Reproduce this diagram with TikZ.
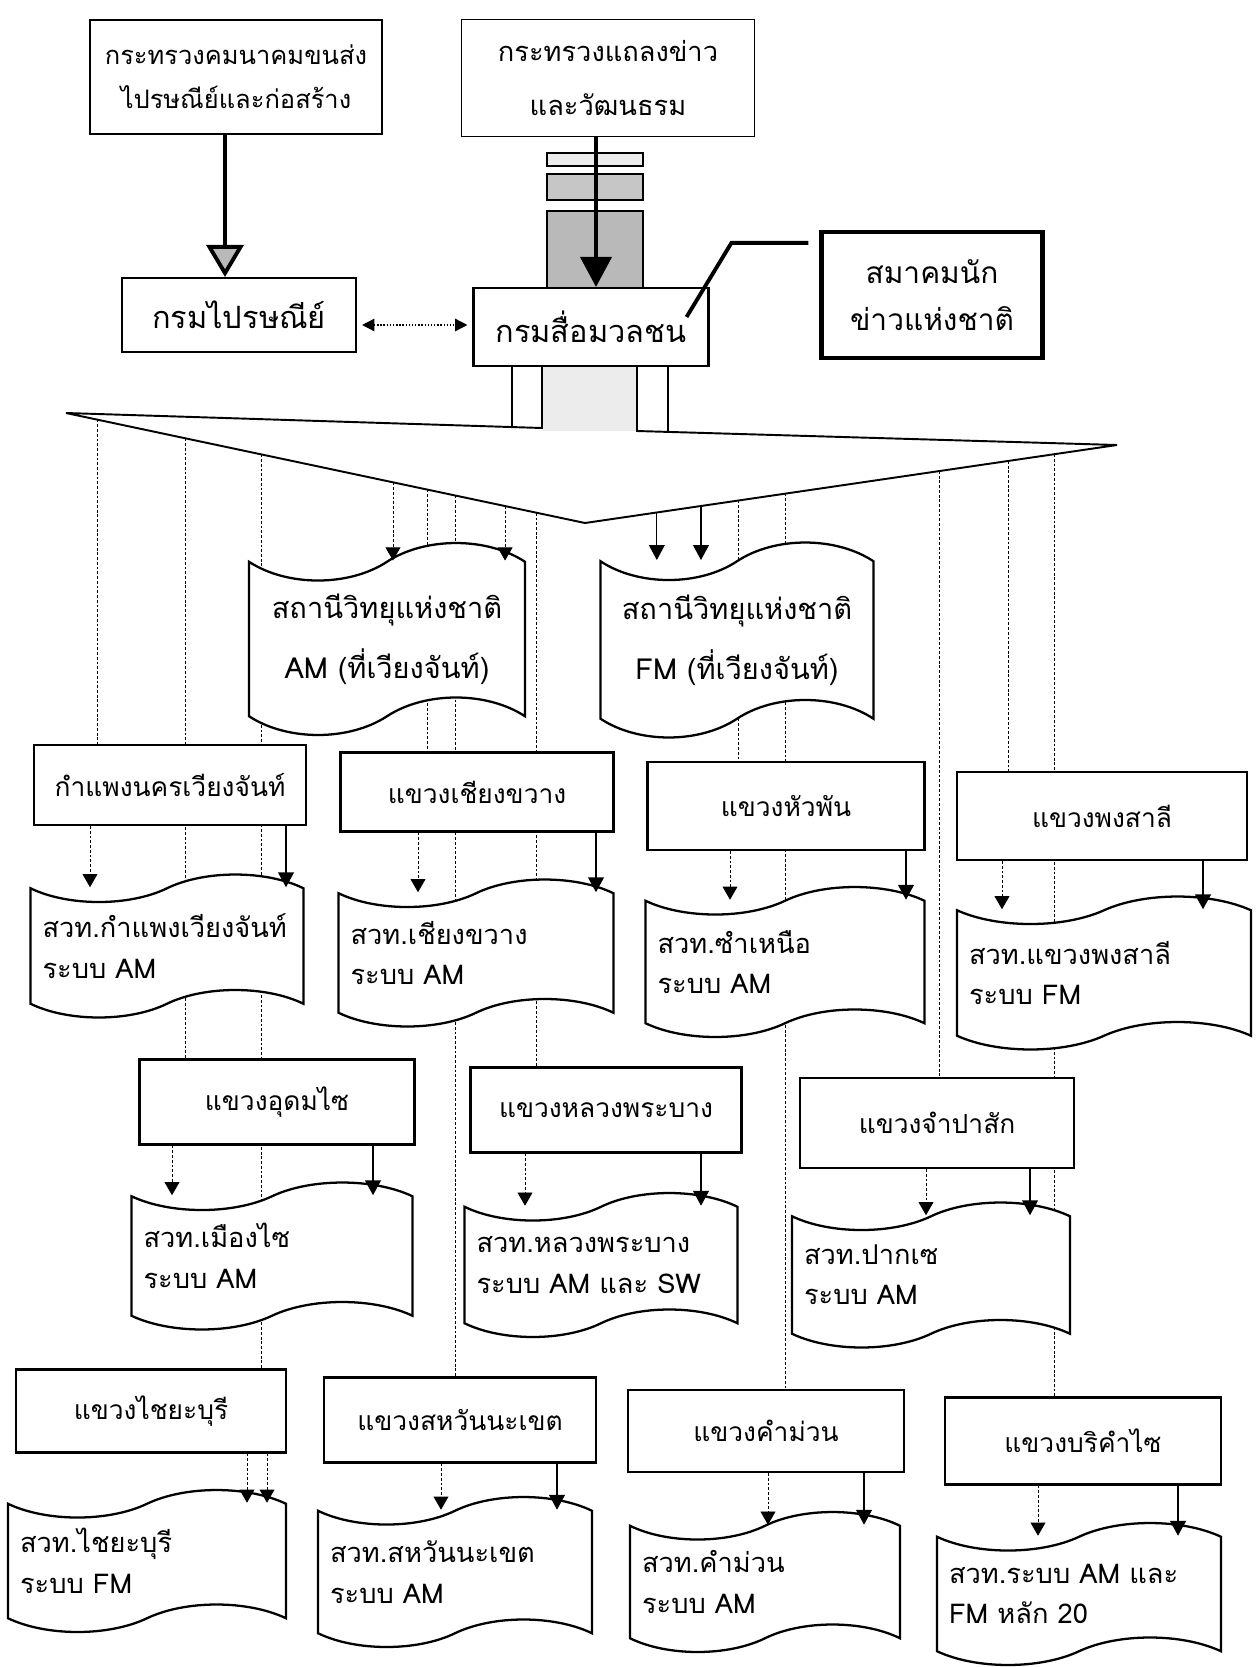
\documentclass[tikz,border=0pt]{standalone}
\usepackage{fontspec}
\setmainfont{Loma}[Script=Thai]
\usetikzlibrary{shapes.symbols,arrows.meta,calc}
\pgfdeclarelayer{background}
\pgfsetlayers{background,main}

\tikzset{
  topbox/.style={draw, fill=white, line width=1pt, align=center, font=\fontsize{14.5}{25}\selectfont},
  deptbox/.style={draw, fill=white, line width=1.2pt, font=\fontsize{17.5}{22}\selectfont},
  provbox/.style={draw, fill=white, line width=1.3pt, font=\fontsize{15}{18}\selectfont},
  station/.style={tape, draw, fill=white, line width=1.3pt, tape bend height=0.55cm, align=left, inner xsep=0.24cm, font=\fontsize{15.5}{23}\selectfont},
  natstation/.style={station, align=center, tape bend height=0.75cm, font=\fontsize{16.5}{34}\selectfont},
  thinln/.style={line width=0.5pt, dash pattern=on 1.6pt off 1.1pt},
  darr/.style={thinln, -{Triangle[length=7.5pt,width=8.5pt]}},
  sarr/.style={line width=1pt, -{Triangle[length=8.5pt,width=9pt]}},
}

\begin{document}
\begin{tikzpicture}[x=0.02cm, y=-0.02cm]
  \useasboundingbox (0,0) rectangle (1257,1667);

  % ministries and departments
  \node[topbox, minimum width=5.84cm, minimum height=2.28cm] (mtc) at (236,77) {กระทรวงคมนาคมขนส่ง\\ไปรษณีย์และก่อสร้าง};
  \node[topbox, minimum width=5.86cm, minimum height=2.34cm, font=\fontsize{15.5}{31}\selectfont] (mic) at (608,78) {กระทรวงแถลงข่าว\\และวัฒนธรม};
  \node[deptbox, minimum width=4.68cm, minimum height=1.48cm] (post) at (239,315) {กรมไปรษณีย์};
  \node[deptbox, minimum width=4.7cm, minimum height=1.56cm] (media) at (591,327) {กรมสื่อมวลชน};
  \node[deptbox, line width=2.4pt, align=center, minimum width=4.42cm, minimum height=2.52cm, font=\fontsize{17}{27}\selectfont] (assoc) at (932,295) {สมาคมนัก\\ข่าวแห่งชาติ};

  % national stations
  \node[natstation, minimum width=5.52cm, minimum height=3.84cm] (amst) at (387,639) {สถานีวิทยุแห่งชาติ\\AM (ที่เวียงจันท์)};
  \node[natstation, minimum width=5.46cm, minimum height=3.9cm] (fmst) at (737,640) {สถานีวิทยุแห่งชาติ\\FM (ที่เวียงจันท์)};

  % first row
  \node[provbox, minimum width=5.44cm, minimum height=1.6cm] (kp) at (170,785) {กำแพงนครเวียงจันท์};
  \node[provbox, minimum width=5.46cm, minimum height=1.58cm] (xk) at (477,792) {แขวงเชียงขวาง};
  \node[provbox, minimum width=5.54cm, minimum height=1.76cm] (hp) at (786,806) {แขวงหัวพัน};
  \node[provbox, minimum width=5.8cm, minimum height=1.76cm] (ps) at (1102,816) {แขวงพงสาลี};
  \node[station, text width=4.98cm, minimum height=2.86cm] (skp) at (167,946) {สวท.กำแพงเวียงจันท์\\ระบบ AM};
  \node[station, text width=5.02cm, minimum height=2.94cm] (sxk) at (476,953) {สวท.เชียงขวาง\\ระบบ AM};
  \node[station, text width=5.1cm, minimum height=3cm] (ssn) at (785,962) {สวท.ซำเหนือ\\ระบบ AM};
  \node[station, text width=5.4cm, minimum height=3.06cm] (sps) at (1104,973) {สวท.แขวงพงสาลี\\ระบบ FM};

  % second row
  \node[provbox, minimum width=5.5cm, minimum height=1.7cm] (ud) at (277,1102) {แขวงอุดมไซ};
  \node[provbox, minimum width=5.42cm, minimum height=1.7cm] (lp) at (606,1110) {แขวงหลวงพระบาง};
  \node[provbox, minimum width=5.48cm, minimum height=1.8cm] (cp) at (937,1123) {แขวงจำปาสัก};
  \node[station, text width=5.14cm, minimum height=2.94cm] (smx) at (272,1256) {สวท.เมืองไซ\\ระบบ AM};
  \node[station, text width=4.98cm, minimum height=2.88cm] (slp) at (601,1265) {สวท.หลวงพระบาง\\ระบบ AM และ SW};
  \node[station, text width=5.08cm, minimum height=2.9cm] (spx) at (931,1275) {สวท.ปากเซ\\ระบบ AM};

  % third row
  \node[provbox, minimum width=5.4cm, minimum height=1.66cm] (xb) at (151,1411) {แขวงไชยะบุรี};
  \node[provbox, minimum width=5.44cm, minimum height=1.7cm] (sv) at (460,1420) {แขวงสหวันนะเขต};
  \node[provbox, minimum width=5.52cm, minimum height=1.64cm] (km) at (766,1431) {แขวงคำม่วน};
  \node[provbox, minimum width=5.52cm, minimum height=1.74cm] (bk) at (1083,1441) {แขวงบริคำไซ};
  \node[station, text width=5.08cm, minimum height=2.84cm] (sxb) at (147,1561) {สวท.ไชยะบุรี\\ระบบ FM};
  \node[station, text width=5cm, minimum height=3cm] (ssv) at (455,1572) {สวท.สหวันนะเขต\\ระบบ AM};
  \node[station, text width=4.92cm, minimum height=2.8cm] (skm) at (765,1582) {สวท.คำม่วน\\ระบบ AM};
  \node[station, text width=5.2cm, minimum height=2.84cm] (sbk) at (1079,1594) {สวท.ระบบ AM และ\\FM หลัก 20};

  % strips under the ministry
  \draw[line width=0.6pt, fill=gray!15] (547,153) rectangle (643,166);
  \draw[line width=0.6pt, fill=gray!45] (547,174) rectangle (643,200);
  \draw[line width=0.6pt, fill=gray!55] (547,211) rectangle (643,288);

  % top arrows
  \draw[line width=2.2pt, -{Triangle[length=0.64cm,width=0.74cm,fill=gray!55]}] (mtc.south -| 225,0) -- (post.north -| 225,0);
  \draw[line width=2.2pt, -{Triangle[length=0.6cm,width=0.62cm]}] (mic.south -| 596,0) -- (media.north -| 596,0);
  \draw[densely dotted, line width=0.8pt, {Triangle[length=7pt,width=7pt]}-{Triangle[length=7pt,width=7pt]}, shorten <=0.1cm, shorten >=0.1cm] ([yshift=-0.2cm]post.east) -- ([yshift=-0.2cm]post.east -| media.west);
  \draw[line width=2.2pt] ([xshift=-0.22cm,yshift=-0.26cm]assoc.north west) -- ++(-77,0) -- ([xshift=-0.46cm,yshift=0.2cm]media.east);

  % funnel
  \coordinate (tl) at (66,413);
  \coordinate (ta) at (585,523);
  \coordinate (tr) at (1117,445);
  \draw[line width=1.1pt] (media.south -| 542,0) -- (542,428) -- (tl) -- (ta) -- (tr) -- (637,431) -- (media.south -| 637,0);
  \draw[line width=1.1pt] (media.south -| 512,0) -- (512,427);
  \draw[line width=1.1pt] (media.south -| 668,0) -- (668,432);
  \foreach \n/\f in {a/0.060, b/0.231, c/0.376, d/0.630, e/0.697, f/0.751, g/0.846, h/0.907}
    \coordinate (L\n) at ($(tl)!\f!(ta)$);
  \foreach \n/\f in {i/0.135, j/0.218, k/0.289, l/0.376, m/0.667, n/0.795, o/0.883}
    \coordinate (R\n) at ($(ta)!\f!(tr)$);

  % lines from the funnel, behind the boxes
  \begin{pgfonlayer}{background}
    \fill[gray!15] (media.south -| 542,0) rectangle (637,431);
    \draw[thinln] (La) -- (La |- kp.north);
    \draw[thinln] (Lb) -- (Lb |- ud.north);
    \draw[thinln] (Lc) -- (Lc |- xb.north);
    \draw[thinln] (Le) -- (Le |- xk.north);
    \draw[thinln] (Lf) -- (Lf |- sv.north);
    \draw[thinln] (Lh) -- (Lh |- lp.north);
    \draw[thinln] (Rk) -- (Rk |- hp.north);
    \draw[thinln] (Rl) -- (Rl |- km.north);
    \draw[thinln] (Rm) -- (Rm |- cp.north);
    \draw[thinln] (Rn) -- (Rn |- ps.north);
    \draw[thinln] (Ro) -- (Ro |- bk.north);
  \end{pgfonlayer}
  \draw[darr] (Ld) -- (Ld |- amst.north);
  \draw[darr] (Lg) -- (Lg |- amst.north);
  \draw[sarr, line width=0.6pt] (Ri) -- (Ri |- fmst.north);
  \draw[sarr, line width=0.6pt] (Rj) -- (Rj |- fmst.north);

  % province to station
  \draw[darr] (kp.south -| 90,0) -- (skp.north -| 90,0);
  \draw[sarr] (kp.south -| 286,0) -- (skp.north -| 286,0);
  \draw[darr] (xk.south -| 418,0) -- (sxk.north -| 418,0);
  \draw[sarr] (xk.south -| 596,0) -- (sxk.north -| 596,0);
  \draw[darr] (hp.south -| 730,0) -- (ssn.north -| 730,0);
  \draw[sarr] (hp.south -| 906,0) -- (ssn.north -| 906,0);
  \draw[darr] (ps.south -| 1002,0) -- (sps.north -| 1002,0);
  \draw[sarr] (ps.south -| 1203,0) -- (sps.north -| 1203,0);
  \draw[darr] (ud.south -| 172,0) -- (smx.north -| 172,0);
  \draw[sarr] (ud.south -| 373,0) -- (smx.north -| 373,0);
  \draw[darr] (lp.south -| 525,0) -- (slp.north -| 525,0);
  \draw[sarr] (lp.south -| 701,0) -- (slp.north -| 701,0);
  \draw[darr] (cp.south -| 926,0) -- (spx.north -| 926,0);
  \draw[sarr] (cp.south -| 1030,0) -- (spx.north -| 1030,0);
  \draw[darr] (xb.south -| 247,0) -- (sxb.north -| 247,0);
  \draw[darr] (xb.south -| 267,0) -- (sxb.north -| 267,0);
  \draw[darr] (sv.south -| 441,0) -- (ssv.north -| 441,0);
  \draw[sarr] (sv.south -| 557,0) -- (ssv.north -| 557,0);
  \draw[darr] (km.south -| 768,0) -- (skm.north -| 768,0);
  \draw[sarr] (km.south -| 864,0) -- (skm.north -| 864,0);
  \draw[darr] (bk.south -| 1038,0) -- (sbk.north -| 1038,0);
  \draw[sarr] (bk.south -| 1178,0) -- (sbk.north -| 1178,0);
\end{tikzpicture}
\end{document}
